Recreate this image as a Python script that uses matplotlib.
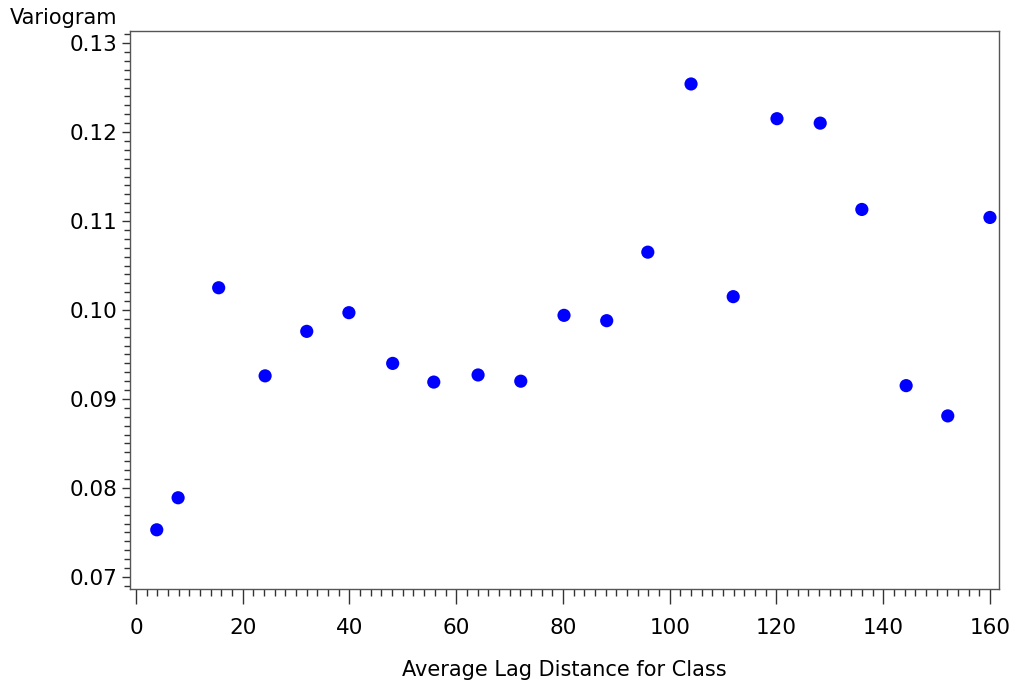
import numpy as np
import matplotlib.pyplot as plt
from matplotlib.ticker import MultipleLocator

# average lag distance per class and the empirical variogram value
lag = [3.9, 7.9, 15.5, 24.2, 32.0, 39.9, 48.1, 55.8, 64.1, 72.1, 80.2,
       88.2, 95.9, 104.0, 111.9, 120.1, 128.2, 136.0, 144.3, 152.1, 160.0]
variogram = [0.0753, 0.0789, 0.1025, 0.0926, 0.0976, 0.0997, 0.0940, 0.0919,
             0.0927, 0.0920, 0.0994, 0.0988, 0.1065, 0.1254, 0.1015, 0.1215,
             0.1210, 0.1113, 0.0915, 0.0881, 0.1104]

plt.rcParams['font.family'] = ['DejaVu Sans']

fig = plt.figure(figsize=(10.13, 6.82), dpi=100)
ax = fig.add_axes([0.1283, 0.1364, 0.8579, 0.8181])

ax.scatter(lag, variogram, s=90, color='#0000ff', edgecolors='none', zorder=3)

ax.set_xlim(-1.12, 161.7)
ax.set_ylim(0.06865, 0.13135)
ax.xaxis.set_major_locator(MultipleLocator(20))
ax.xaxis.set_minor_locator(MultipleLocator(2))
ax.yaxis.set_major_locator(MultipleLocator(0.01))
ax.yaxis.set_minor_locator(MultipleLocator(0.001))
ax.yaxis.set_major_formatter(plt.FuncFormatter(lambda v, p: f'{v:.2f}'))

ax.tick_params(axis='x', which='major', length=11, width=1, labelsize=15.5, pad=10, color='#333333')
ax.tick_params(axis='x', which='minor', length=5, width=1, color='#333333')
ax.tick_params(axis='y', which='major', length=6, width=1, labelsize=15.5, pad=3, color='#333333')
ax.tick_params(axis='y', which='minor', length=4, width=1, color='#333333')
for s in ax.spines.values():
    s.set_color('#555555')
    s.set_linewidth(1)

ax.set_xlabel('Average Lag Distance for Class', fontsize=15, labelpad=16)
fig.text(0.010, 0.973, 'Variogram', fontsize=15, ha='left', va='center')

fig.savefig('out.png', dpi=100)
